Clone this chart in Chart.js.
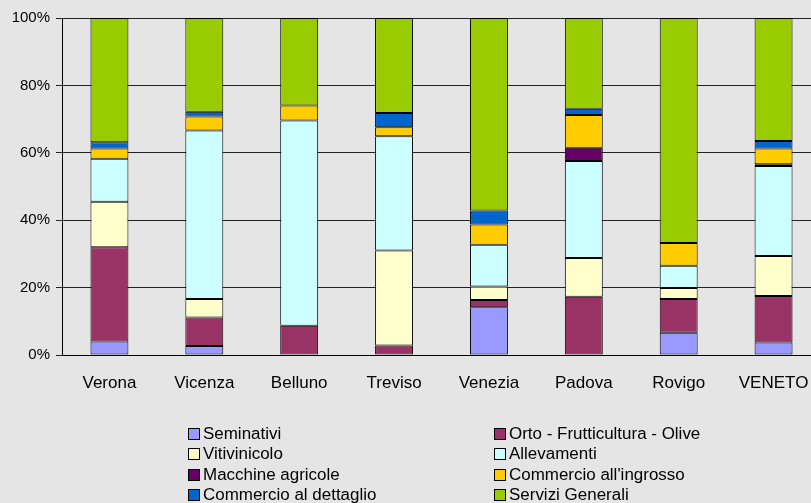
<!DOCTYPE html>
<html>
<head>
<meta charset="utf-8">
<script src="https://cdn.jsdelivr.net/npm/chart.js@4"></script>
<style>
  html, body { margin: 0; padding: 0; background: #e5e5e5; overflow: hidden; width: 811px; height: 503px; }
  canvas { display: block; }
</style>
</head>
<body>
<canvas id="barchart" width="821" height="503"></canvas>
<script>
const province = ['Verona', 'Vicenza', 'Belluno', 'Treviso', 'Venezia', 'Padova', 'Rovigo', 'VENETO'];
const seminativi = [4.0, 2.7, 0, 0, 14.2, 0, 6.6, 3.7];
const orto = [28.0, 8.4, 8.7, 2.8, 2.1, 17.3, 10.0, 13.8];
const vitivinicolo = [13.5, 5.5, 0, 28.2, 4.0, 11.5, 3.3, 11.9];
const allevamenti = [12.7, 50.0, 60.9, 33.9, 12.4, 28.8, 6.6, 26.7];
const macchine = [0, 0, 0, 0, 0, 3.9, 0, 0.5];
const ingrosso = [3.1, 4.2, 4.4, 2.7, 6.0, 9.7, 6.7, 4.7];
const dettaglio = [1.8, 1.4, 0, 4.2, 4.2, 1.9, 0, 2.2];
const servizi = [36.9, 27.8, 26.0, 28.2, 57.1, 26.9, 66.8, 36.5];
const yTicks = [0, 20, 40, 60, 80, 100];

const family = 'Liberation Sans, Arial, sans-serif';

function serie(label, data, color) {
  return {
    label: label,
    data: data,
    backgroundColor: color,
    borderColor: '#000',
    borderWidth: 1,
    borderSkipped: false,
    categoryPercentage: 1,
    barPercentage: 0.4
  };
}

// legend in two columns under the axis
const legendaColonne = {
  id: 'legendaColonne',
  afterDraw(chart) {
    const ctx = chart.ctx;
    const cols = [188, 494];
    const rows = [433.5, 454, 474.5, 495];
    ctx.save();
    ctx.font = '16px ' + family;
    ctx.textBaseline = 'middle';
    chart.data.datasets.forEach((ds, i) => {
      const x = cols[i % 2];
      const y = Math.round(rows[Math.floor(i / 2)]);
      ctx.fillStyle = ds.backgroundColor;
      ctx.fillRect(x, y - 6, 12, 12);
      ctx.strokeStyle = '#000';
      ctx.lineWidth = 1;
      ctx.strokeRect(x + 0.5, y - 5.5, 11, 11);
      ctx.fillStyle = '#000';
      ctx.save();
      ctx.translate(x + 15, y + 1);
      ctx.scale(1.06, 1);
      ctx.fillText(ds.label, 0, 0);
      ctx.restore();
    });
    ctx.restore();
  }
};

const ctx1 = document.getElementById('barchart');

const barchart = new Chart(ctx1, {
  type: 'bar',
  data: {
    labels: province,
    datasets: [
      serie('Seminativi', seminativi, '#9999ff'),
      serie('Orto - Frutticultura - Olive', orto, '#993366'),
      serie('Vitivinicolo', vitivinicolo, '#ffffcc'),
      serie('Allevamenti', allevamenti, '#ccffff'),
      serie('Macchine agricole', macchine, '#660066'),
      serie("Commercio all'ingrosso", ingrosso, '#ffcc00'),
      serie('Commercio al dettaglio', dettaglio, '#0066cc'),
      serie('Servizi Generali', servizi, '#99cc00')
    ]
  },
  options: {
    responsive: false,
    animation: false,
    layout: { padding: { top: 18, left: 0, right: 0, bottom: 0 } },
    plugins: {
      legend: { display: false },
      tooltip: { enabled: false }
    },
    scales: {
      x: {
        stacked: true,
        grid: { display: false },
        border: { display: true, color: '#000', width: 1 },
        ticks: { color: '#000', font: { family: family, size: 17 }, padding: 10, maxRotation: 0 },
        afterFit: s => { s.height = 148; }
      },
      y: {
        stacked: true,
        min: 0,
        max: 100,
        afterBuildTicks: s => { s.ticks = yTicks.map(v => ({ value: v })); },
        grid: { color: '#222', lineWidth: 1, tickLength: 6 },
        border: { display: true, color: '#000', width: 1 },
        ticks: {
          color: '#000',
          font: { family: family, size: 15 },
          padding: 6,
          callback: v => v + '%'
        },
        afterFit: s => { s.width = 62; }
      }
    }
  },
  plugins: [legendaColonne]
});
</script>
</body>
</html>
